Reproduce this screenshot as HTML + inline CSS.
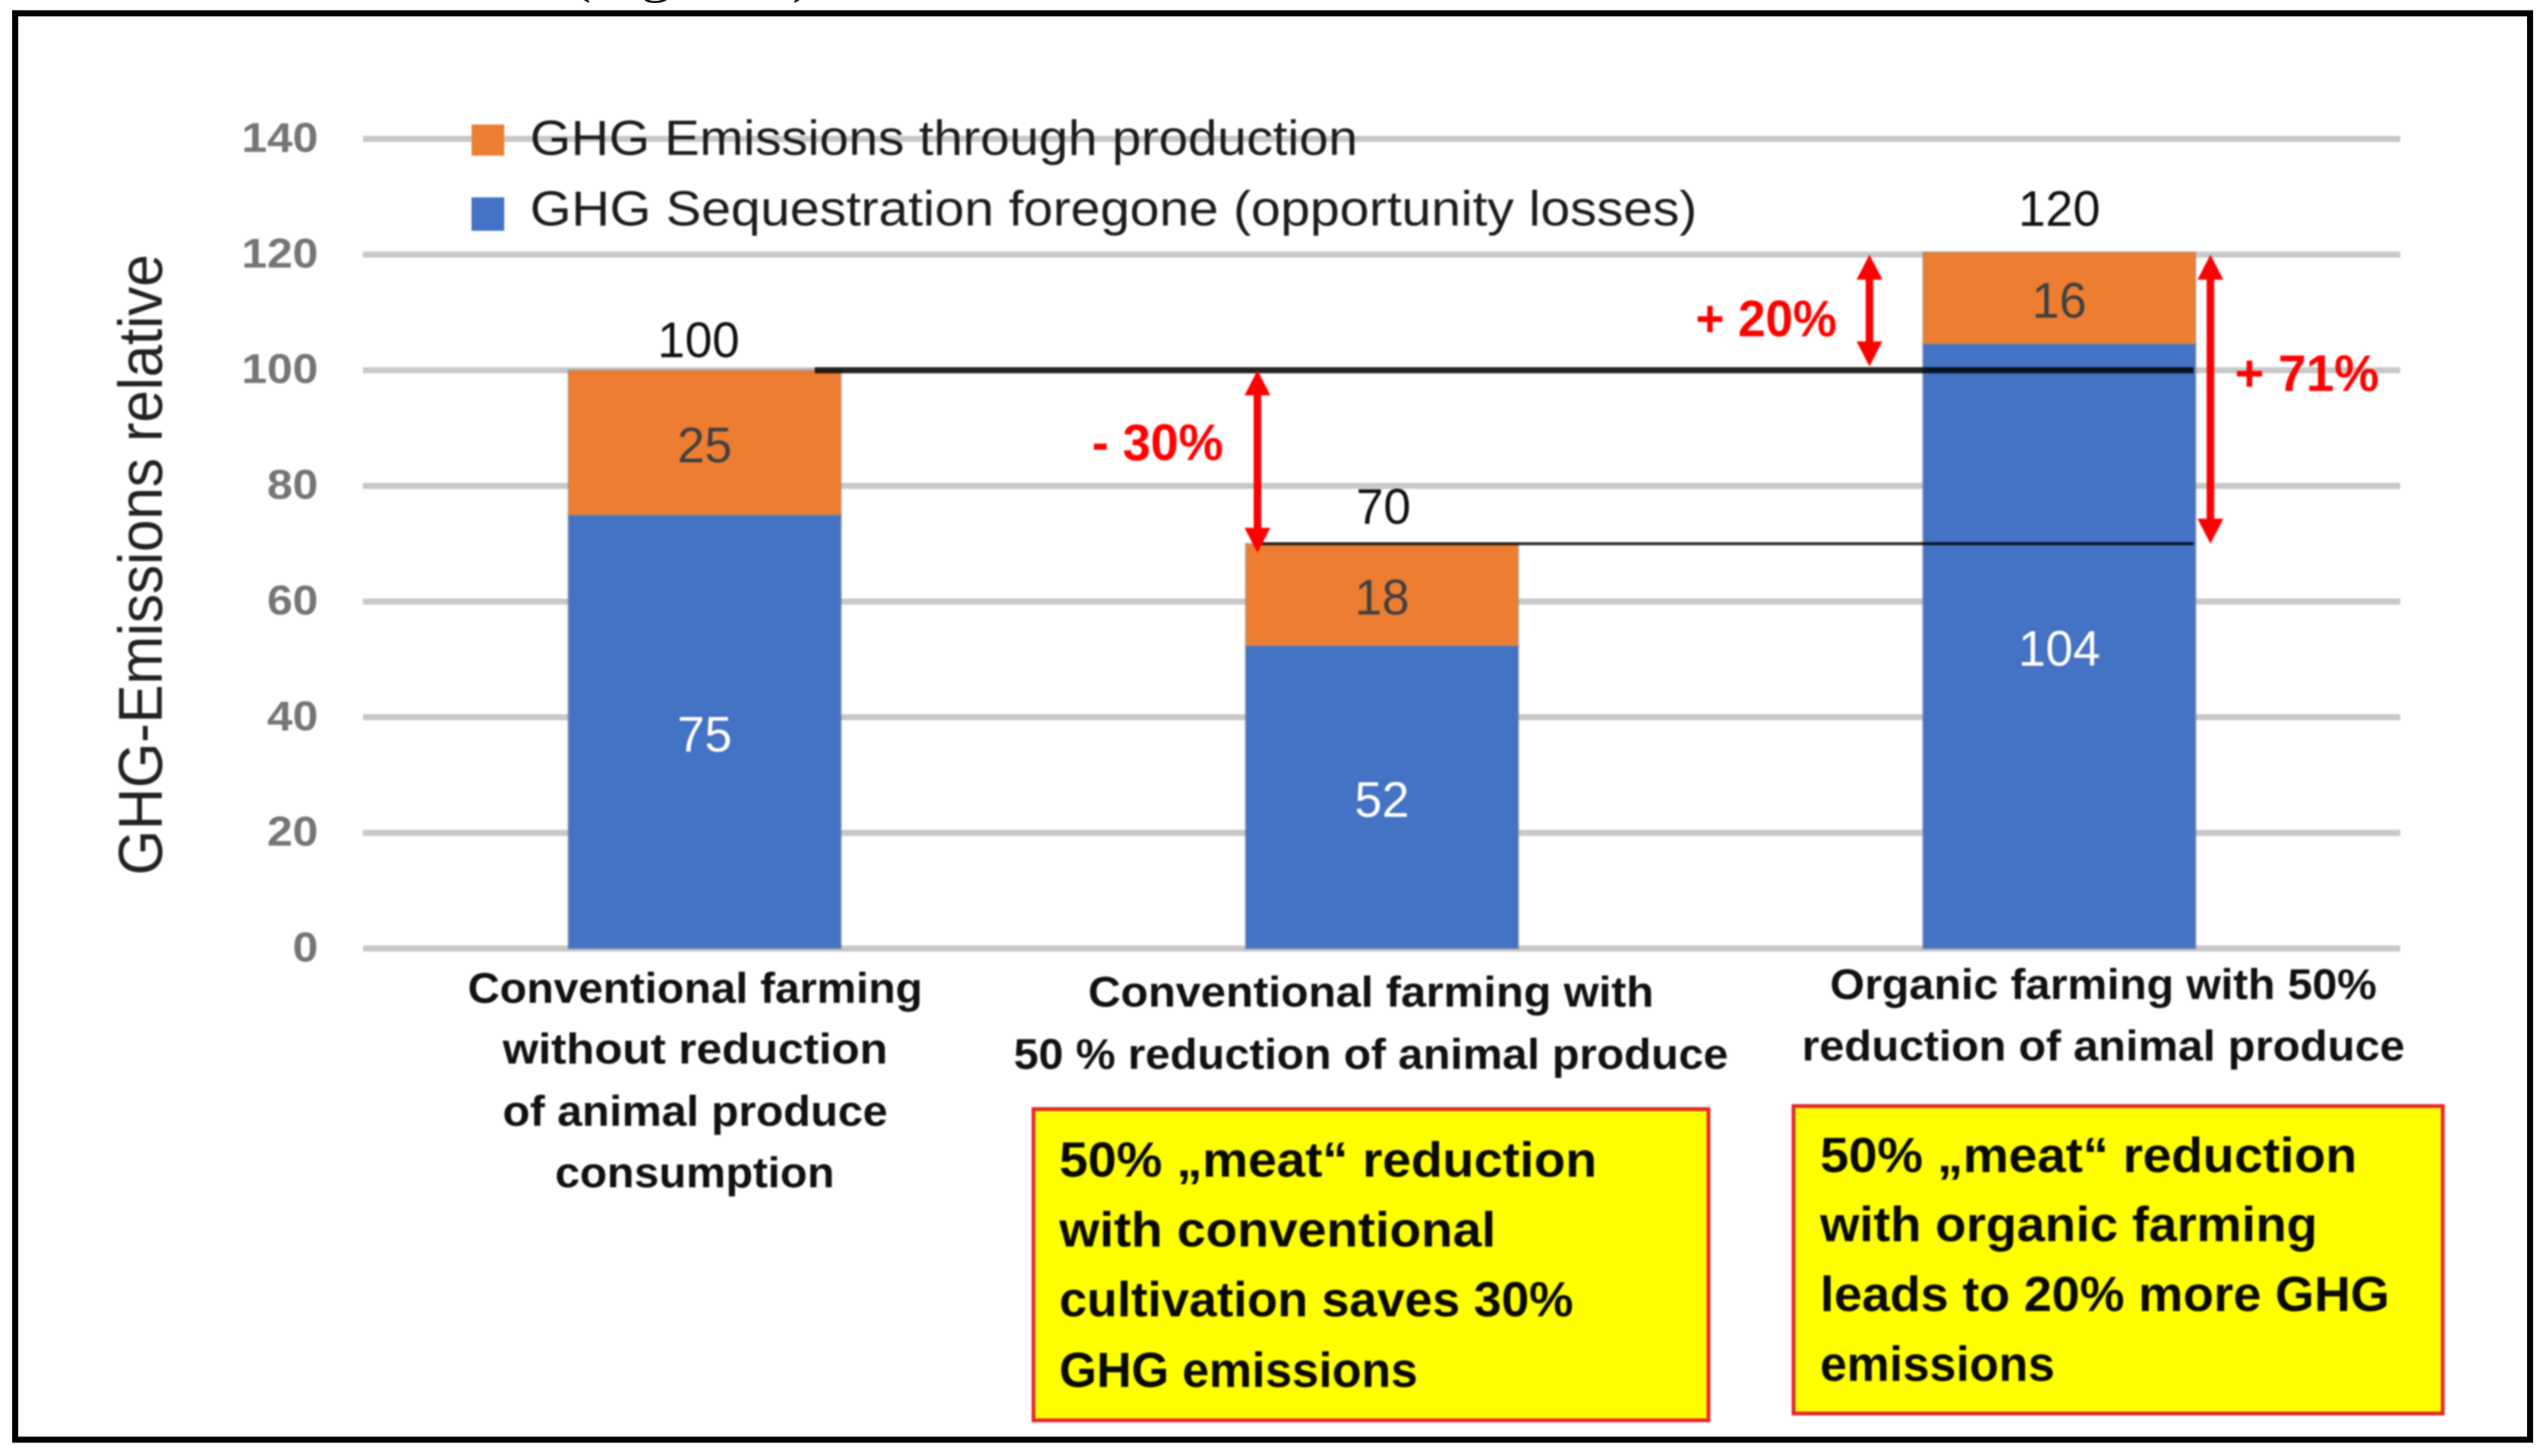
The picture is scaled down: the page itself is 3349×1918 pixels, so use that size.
<!DOCTYPE html>
<html lang="en">
<head>
<meta charset="utf-8">
<title>GHG emissions by farming scenario</title>
<style>
html,body{margin:0;padding:0;background:#fff;width:3349px;height:1918px;overflow:hidden}
svg{display:block}
.soft{filter:blur(1.1px)}
text{font-family:"Liberation Sans",sans-serif}
.cat{font-size:57px;font-weight:bold;fill:#111}
.note{font-size:65px;font-weight:bold;fill:#0a0a00}
.pct{font-size:68px;font-weight:bold;fill:#ff0000}
.leg{font-size:65px;fill:#1c1c1c}
</style>
</head>
<body>
<svg id="chart" xmlns="http://www.w3.org/2000/svg" width="3349" height="1918" viewBox="0 0 3349 1918">
  <text x="752" y="-11" font-size="70" textLength="318" lengthAdjust="spacingAndGlyphs" fill="#111" style="font-family:'Liberation Serif',serif">(Figure 1)</text>
  <rect x="20" y="17.5" width="3312" height="1879" fill="#fff" stroke="#000" stroke-width="8"/>
  <g class="soft">
  <g id="grid"></g>
  <g id="ticks"></g>
  <text transform="translate(213 744) rotate(-90)" text-anchor="middle" font-size="82" fill="#222" textLength="818" lengthAdjust="spacingAndGlyphs">GHG-Emissions relative</text>

  <g>
    <rect x="621" y="164" width="43" height="41" fill="#ed7d31"/>
    <text class="leg" x="698" y="204" textLength="1090" lengthAdjust="spacingAndGlyphs">GHG Emissions through production</text>
    <rect x="621" y="260" width="43" height="44" fill="#4472c4"/>
    <text class="leg" x="698" y="297" textLength="1537" lengthAdjust="spacingAndGlyphs">GHG Sequestration foregone (opportunity losses)</text>
  </g>

  <g id="bars"></g>
  <g id="refs"></g>
  <g id="arrows"></g>
  <g id="labels"></g>

  <text class="pct" x="1438" y="606" textLength="173" lengthAdjust="spacingAndGlyphs">- 30%</text>
  <text class="pct" x="2233" y="443" textLength="186" lengthAdjust="spacingAndGlyphs">+ 20%</text>
  <text class="pct" x="2943" y="515" textLength="190" lengthAdjust="spacingAndGlyphs">+ 71%</text>

  <g>
    <text class="cat" x="616" y="1321" textLength="599" lengthAdjust="spacingAndGlyphs">Conventional farming</text>
    <text class="cat" x="662" y="1401" textLength="507" lengthAdjust="spacingAndGlyphs">without reduction</text>
    <text class="cat" x="662" y="1483" textLength="507" lengthAdjust="spacingAndGlyphs">of animal produce</text>
    <text class="cat" x="731" y="1564" textLength="368" lengthAdjust="spacingAndGlyphs">consumption</text>
  </g>
  <g>
    <text class="cat" x="1433" y="1326" textLength="745" lengthAdjust="spacingAndGlyphs">Conventional farming with</text>
    <text class="cat" x="1335" y="1408" textLength="941" lengthAdjust="spacingAndGlyphs">50 % reduction of animal produce</text>
  </g>
  <g>
    <text class="cat" x="2410" y="1316" textLength="720" lengthAdjust="spacingAndGlyphs">Organic farming with 50%</text>
    <text class="cat" x="2373" y="1397" textLength="794" lengthAdjust="spacingAndGlyphs">reduction of animal produce</text>
  </g>

  <g>
    <rect x="1361" y="1461" width="889" height="410" fill="#ffff00" stroke="#e8262a" stroke-width="5"/>
    <text class="note" x="1395" y="1550" textLength="708" lengthAdjust="spacingAndGlyphs">50% „meat“ reduction</text>
    <text class="note" x="1395" y="1642" textLength="575" lengthAdjust="spacingAndGlyphs">with conventional</text>
    <text class="note" x="1395" y="1734" textLength="677" lengthAdjust="spacingAndGlyphs">cultivation saves 30%</text>
    <text class="note" x="1395" y="1827" textLength="472" lengthAdjust="spacingAndGlyphs">GHG emissions</text>
  </g>
  <g>
    <rect x="2362" y="1457" width="855" height="405" fill="#ffff00" stroke="#e8262a" stroke-width="5"/>
    <text class="note" x="2397" y="1544" textLength="707" lengthAdjust="spacingAndGlyphs">50% „meat“ reduction</text>
    <text class="note" x="2397" y="1635" textLength="655" lengthAdjust="spacingAndGlyphs">with organic farming</text>
    <text class="note" x="2397" y="1727" textLength="750" lengthAdjust="spacingAndGlyphs">leads to 20% more GHG</text>
    <text class="note" x="2397" y="1819" textLength="309" lengthAdjust="spacingAndGlyphs">emissions</text>
  </g>
  </g>
</svg>
<script>
var categories = ['conventional', 'conventional-reduced', 'organic-reduced'];
var sequestration = [75, 52.4, 104.6];
var emissions = [25, 17.6, 15.8];
var sequestrationLabels = ['75', '52', '104'];
var emissionLabels = ['25', '18', '16'];
var totalLabels = ['100', '70', '120'];
var tickValues = [0, 20, 40, 60, 80, 100, 120, 140];
var referenceLevels = [100, 70];
var arrowRanges = [[100, 70], [120, 100], [120, 70]];

var NS = 'http://www.w3.org/2000/svg';
var PLOT = { left: 482, right: 3158, gridLeft: 478, gridRight: 3161, y0: 1249.5, perUnit: 7.618, barWidth: 359 };
function y(v) { return PLOT.y0 - v * PLOT.perUnit; }
function xCenter(i) { return PLOT.left + (PLOT.right - PLOT.left) * (i + 0.5) / categories.length; }
function make(tag, parent) {
  var el = document.createElementNS(NS, tag);
  document.getElementById(parent).appendChild(el);
  return el;
}
function setAll(el, props) {
  Object.keys(props).forEach(function (k) { el.setAttribute(k, props[k]); });
}
function valueLabel(parent, str, cx, baseline, fill) {
  var t = make('text', parent);
  setAll(t, { x: cx, y: baseline, 'text-anchor': 'middle', 'font-size': 66, fill: fill,
    textLength: str.length * 36, lengthAdjust: 'spacingAndGlyphs' });
  t.textContent = str;
  return t;
}

tickValues.forEach(function (v) {
  var line = make('rect', 'grid');
  
  
  setAll(line, { x: PLOT.gridLeft, y: y(v) - 4, width: PLOT.gridRight - PLOT.gridLeft, height: 8, fill: '#c8c8c8' });
  var t = make('text', 'ticks');
  
  
  var s = String(v);
  setAll(t, { x: 419, y: y(v) + 17, 'text-anchor': 'end', 'font-size': 55, 'font-weight': 'bold', fill: '#757575',
    textLength: s.length * 33.6, lengthAdjust: 'spacingAndGlyphs' });
  t.textContent = s;
});

var totalGaps = [17, 26, 35];
var totalNudge = [-8, 2, 0];
categories.forEach(function (c, i) {
  var cx = xCenter(i), a = sequestration[i], b = emissions[i];
  var blue = make('rect', 'bars');
  
  
  setAll(blue, { x: cx - PLOT.barWidth / 2, y: y(a), width: PLOT.barWidth, height: y(0) - y(a), fill: '#4472c4', stroke: 'rgba(120,130,150,.45)', 'stroke-width': 3 });
  var orange = make('rect', 'bars');
  
  
  setAll(orange, { x: cx - PLOT.barWidth / 2, y: y(a + b), width: PLOT.barWidth, height: y(a) - y(a + b), fill: '#ed7d31', stroke: 'rgba(150,140,130,.4)', 'stroke-width': 3 });

  var l1 = valueLabel('labels', sequestrationLabels[i], cx, y(a / 2) + 26, '#ffffff');
  
  
  var l2 = valueLabel('labels', emissionLabels[i], cx, y(a + b / 2) + 26, '#404040');
  
  
  var l3 = valueLabel('labels', totalLabels[i], cx + totalNudge[i], y(a + b) - totalGaps[i], '#111111');
  
  
});

var refStarts = [1073, 1656], refThick = [8, 4];
referenceLevels.forEach(function (v, i) {
  var r = make('rect', 'refs');
  
  
  setAll(r, { x: refStarts[i], y: y(v) - refThick[i] / 2, width: 2889 - refStarts[i], height: refThick[i], fill: '#000', 'fill-opacity': 0.82 });
});

var arrowX = [1656, 2462, 2911];
var tipOvershoot = [12, -5, 0];
arrowRanges.forEach(function (range, i) {
  var g = make('g', 'arrows');
  
  
  var x = arrowX[i], top = y(range[0]), bot = y(range[1]) + tipOvershoot[i], w = 5;
  var p = document.createElementNS(NS, 'path');
  p.setAttribute('fill', '#ff0000');
  p.setAttribute('d', 'M' + x + ' ' + top + 'L' + (x + 17) + ' ' + (top + 33) + 'H' + (x + w) + 'V' + (bot - 33) +
    'H' + (x + 17) + 'L' + x + ' ' + bot + 'L' + (x - 17) + ' ' + (bot - 33) + 'H' + (x - w) + 'V' + (top + 33) +
    'H' + (x - 17) + 'Z');
  g.appendChild(p);
});
</script>
</body>
</html>
